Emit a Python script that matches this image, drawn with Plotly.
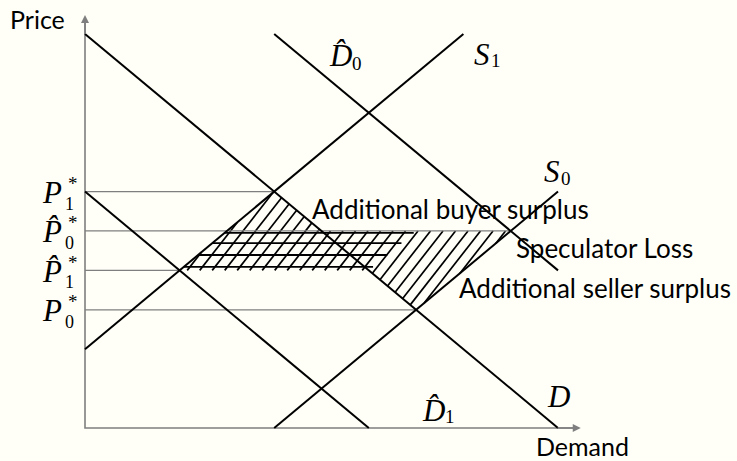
import math
import plotly.graph_objects as go

# ---------------- data ----------------
W, H = 737, 461

# demand / supply curves (quantity, price)
D_q = [0, 5];      D_p = [5, 0]
D0h_q = [2, 5];    D0h_p = [5, 2]
D1h_q = [0, 3];    D1h_p = [3, 0]
S1_q = [0, 4];     S1_p = [1, 5]
S0_q = [2, 5];     S0_p = [0, 3]

# equilibrium prices and the quantity at which each guide line ends
price_levels = [3.0, 2.5, 2.0, 1.5]      # P1*, P^0*, P^1*, P0*
price_qty = [2.0, 4.5, 1.0, 3.5]
price_hat = [False, True, True, False]
price_sub = ["1", "0", "1", "0"]

# hatched regions
surplus_q = [1, 2, 2.5, 4.5, 3.5, 3, 1]
surplus_p = [2, 3, 2.5, 2.5, 1.5, 2, 2]
loss_q = [1, 3, 3.5, 1.5, 1]
loss_p = [2, 2, 2.5, 2.5, 2]
loss_lines_p = [2.475, 2.345, 2.195, 2.045]

X0, X1 = -0.8985, 6.892
Y0, Y1 = -0.419, 5.431
AX_MAX = 5.18
BG = "#fffff8"

# ---------------- helpers ----------------
def to_px(q, p):
    return (q - X0) / (X1 - X0) * W, (Y1 - p) / (Y1 - Y0) * H

def to_data(x, y):
    return X0 + x / W * (X1 - X0), Y1 - y / H * (Y1 - Y0)

def clip_line(poly, x0, y0, dx, dy):
    pts = []
    n = len(poly)
    for i in range(n):
        xa, ya = poly[i]
        xb, yb = poly[(i + 1) % n]
        fa = (xa - x0) * dy - (ya - y0) * dx
        fb = (xb - x0) * dy - (yb - y0) * dx
        if (fa < 0) != (fb < 0):
            t = fa / (fa - fb)
            xi, yi = xa + t * (xb - xa), ya + t * (yb - ya)
            pts.append(((xi - x0) * dx + (yi - y0) * dy, xi, yi))
    pts.sort()
    segs = []
    for k in range(0, len(pts) - 1, 2):
        segs.append(((pts[k][1], pts[k][2]), (pts[k + 1][1], pts[k + 1][2])))
    return segs

fig = go.Figure()
BLACK = "#000000"
GRAY = "#7f7f7f"

# diagonal hatch over the surplus region
poly = [to_px(q, p) for q, p in zip(surplus_q[:-1], surplus_p[:-1])]
ang = math.radians(52)
dx, dy = math.cos(ang), -math.sin(ang)
spacing = 12.5
hx, hy = [], []
yref = 430.0
for k in range(-10, 90):
    xs = 100 + k * spacing
    for (a, b) in clip_line(poly, xs, yref, dx, dy):
        qa, pa = to_data(*a)
        qb, pb = to_data(*b)
        hx += [qa, qb, None]
        hy += [pa, pb, None]
fig.add_trace(go.Scatter(x=hx, y=hy, mode="lines", line=dict(color=BLACK, width=1.7),
                         hoverinfo="skip", showlegend=False))

# horizontal hatch over the speculator loss region
lpoly = [to_px(q, p) for q, p in zip(loss_q[:-1], loss_p[:-1])]
lx, ly = [], []
for p in loss_lines_p:
    _, yy = to_px(0, p)
    for (a, b) in clip_line(lpoly, 0, yy, 1, 0):
        qa, pa = to_data(*a)
        qb, pb = to_data(*b)
        lx += [qa, qb, None]
        ly += [pa, pb, None]
fig.add_trace(go.Scatter(x=lx, y=ly, mode="lines", line=dict(color=BLACK, width=1.8),
                         hoverinfo="skip", showlegend=False))

# price guide lines
for p, q in zip(price_levels, price_qty):
    fig.add_trace(go.Scatter(x=[0, q], y=[p, p], mode="lines",
                             line=dict(color=GRAY, width=1.2), hoverinfo="skip", showlegend=False))

# axes
fig.add_trace(go.Scatter(x=[0, 0, AX_MAX], y=[AX_MAX, 0, 0], mode="lines",
                         line=dict(color=GRAY, width=1.6), hoverinfo="skip", showlegend=False))

# curves
for qs, ps in [(D_q, D_p), (D0h_q, D0h_p), (D1h_q, D1h_p), (S1_q, S1_p), (S0_q, S0_p)]:
    fig.add_trace(go.Scatter(x=qs, y=ps, mode="lines", line=dict(color=BLACK, width=2),
                             hoverinfo="skip", showlegend=False))

ann = []
# arrow heads
ann.append(dict(x=0, y=AX_MAX + 0.06, ax=0, ay=AX_MAX - 0.2, xref="x", yref="y", axref="x", ayref="y",
                text="", showarrow=True, arrowhead=2, arrowsize=1, arrowwidth=1.6, arrowcolor=GRAY))
ann.append(dict(x=AX_MAX + 0.06, y=0, ax=AX_MAX - 0.2, ay=0, xref="x", yref="y", axref="x", ayref="y",
                text="", showarrow=True, arrowhead=2, arrowsize=1, arrowwidth=1.6, arrowcolor=GRAY))

SANS = "Lato, sans-serif"
SERIF = "Liberation Serif, serif"

def txt(px_, py_, s, size, font=SANS, xanchor="center", yanchor="middle"):
    q, p = to_data(px_, py_)
    ann.append(dict(x=q, y=p, xref="x", yref="y", text=s, showarrow=False,
                    xanchor=xanchor, yanchor=yanchor, borderpad=0,
                    font=dict(family=font, size=size, color=BLACK)))

def mathlab(px_, py_, letter, hat, sub, sub_dx, sub_dy, size=31):
    body = "<i>" + letter + ("\u0302" if hat else "") + "</i>"
    txt(px_, py_, body, size, SERIF)
    txt(px_ + sub_dx, py_ + sub_dy, sub, 19, SERIF)

def pricelab(yy, hat, sub):
    body = "<i>P" + ("\u0302" if hat else "") + "</i>"
    txt(63, yy, body, 31, SERIF, xanchor="right")
    txt(63.5, yy + 11, sub, 18, SERIF, xanchor="left")
    txt(66.5, yy - 9, "*", 19, SERIF, xanchor="left")

txt(37, 19, "Price", 25)
txt(582, 446, "Demand", 25)

for p, h, s in zip(price_levels, price_hat, price_sub):
    _, yy = to_px(0, p)
    pricelab(yy + 1, h, s)

mathlab(340, 55, "D", True, "0", 17, 8)
mathlab(482, 54, "S", False, "1", 14, 6)
mathlab(552, 171, "S", False, "0", 14, 7)
txt(558, 396, "<i>D</i>", 31, SERIF)
mathlab(433, 410, "D", True, "1", 17, 6)

txt(311, 209, "Additional buyer surplus", 26, xanchor="left")
txt(515, 248, "Speculator Loss", 26, xanchor="left")
txt(458, 288, "Additional seller surplus", 26, xanchor="left")

fig.update_layout(
    width=W, height=H, margin=dict(l=0, r=0, t=0, b=0),
    paper_bgcolor=BG, plot_bgcolor=BG,
    xaxis=dict(range=[X0, X1], visible=False, fixedrange=True),
    yaxis=dict(range=[Y0, Y1], visible=False, fixedrange=True),
    annotations=ann, showlegend=False,
)
fig.write_html("out.html", config={"displayModeBar": False},
               post_script="document.body.style.margin='0';document.body.style.background='" + BG + "';")
